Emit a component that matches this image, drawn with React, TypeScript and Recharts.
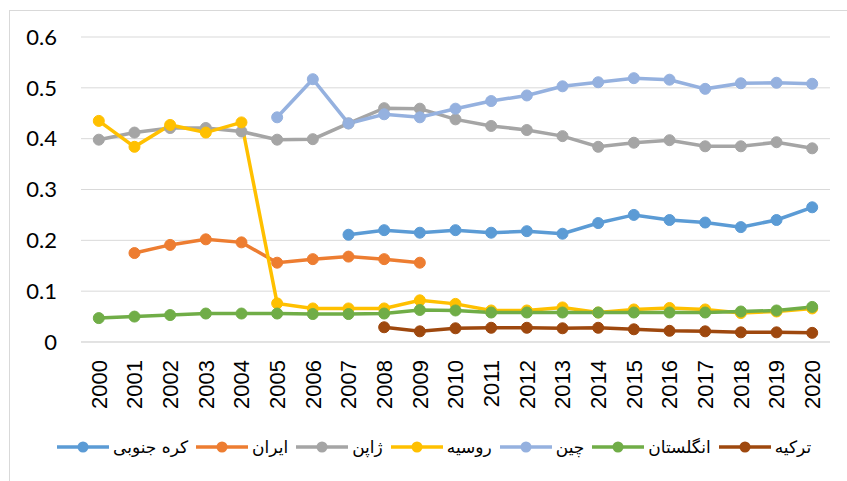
import React from 'react';
import { LineChart, Line, XAxis, YAxis, CartesianGrid, Legend } from 'recharts';

const years = [
  '2000', '2001', '2002', '2003', '2004', '2005', '2006', '2007', '2008', '2009', '2010',
  '2011', '2012', '2013', '2014', '2015', '2016', '2017', '2018', '2019', '2020',
];

// null = no value for that year
const korea = [null, null, null, null, null, null, null, 0.211, 0.22, 0.215, 0.22, 0.215, 0.218, 0.213, 0.234, 0.25, 0.24, 0.235, 0.226, 0.24, 0.265];
const iran = [null, 0.175, 0.191, 0.202, 0.196, 0.156, 0.163, 0.168, 0.163, 0.156, null, null, null, null, null, null, null, null, null, null, null];
const japan = [0.398, 0.412, 0.421, 0.421, 0.414, 0.398, 0.399, 0.43, 0.46, 0.459, 0.438, 0.425, 0.417, 0.405, 0.384, 0.392, 0.397, 0.385, 0.385, 0.393, 0.381];
const russia = [0.435, 0.384, 0.427, 0.412, 0.432, 0.076, 0.066, 0.066, 0.066, 0.082, 0.075, 0.062, 0.062, 0.068, 0.058, 0.064, 0.067, 0.064, 0.057, 0.06, 0.066];
const china = [null, null, null, null, null, 0.442, 0.517, 0.43, 0.448, 0.442, 0.459, 0.474, 0.485, 0.503, 0.511, 0.519, 0.516, 0.498, 0.509, 0.51, 0.508];
const england = [0.047, 0.05, 0.053, 0.056, 0.056, 0.056, 0.055, 0.055, 0.056, 0.063, 0.062, 0.058, 0.058, 0.058, 0.058, 0.058, 0.058, 0.058, 0.06, 0.062, 0.069];
const turkey = [null, null, null, null, null, null, null, null, 0.029, 0.021, 0.027, 0.028, 0.028, 0.027, 0.028, 0.025, 0.022, 0.021, 0.019, 0.019, 0.018];

const series = [
  { key: 'korea', name: 'کره جنوبی', color: '#5B9BD5', values: korea },
  { key: 'iran', name: 'ایران', color: '#ED7D31', values: iran },
  { key: 'japan', name: 'ژاپن', color: '#A5A5A5', values: japan },
  { key: 'russia', name: 'روسیه', color: '#FFC000', values: russia },
  { key: 'china', name: 'چین', color: '#95B1DF', values: china },
  { key: 'england', name: 'انگلستان', color: '#70AD47', values: england },
  { key: 'turkey', name: 'ترکیه', color: '#9E480E', values: turkey },
];

const yTicks = [0, 0.1, 0.2, 0.3, 0.4, 0.5, 0.6];

const data = years.map((year, i) => {
  const row: Record<string, string | number | null> = { year };
  series.forEach((s) => {
    row[s.key] = s.values[i];
  });
  return row;
});

const YearTick = (props: any) => {
  const { x, y, payload } = props;
  const ty = y + 16;
  return (
    <text
      x={x}
      y={ty}
      dy="0.36em"
      transform={`rotate(-90 ${x} ${ty})`}
      textAnchor="end"
      fill="#000"
      fontSize={22}
      fontFamily="'Liberation Sans', Arial, sans-serif"
    >
      {payload.value}
    </text>
  );
};

// legend keeps the series order (Recharts would sort it by name)
const LegendContent = () => (
  <div style={{ display: 'flex', alignItems: 'center', paddingLeft: 57, height: 24, whiteSpace: 'nowrap' }}>
    {series.map((s) => (
      <div key={s.key} style={{ display: 'flex', alignItems: 'center', marginRight: 8, flexShrink: 0 }}>
        <svg width={52} height={14} style={{ flexShrink: 0 }}>
          <line x1={0} y1={7} x2={52} y2={7} stroke={s.color} strokeWidth={3.5} />
          <circle cx={26} cy={7} r={5.5} fill={s.color} />
        </svg>
        <span
          style={{
            marginLeft: 4,
            fontFamily: "'DejaVu Sans', sans-serif",
            fontSize: 17,
            color: '#000',
            direction: 'rtl',
            whiteSpace: 'nowrap',
          }}
        >
          {s.name}
        </span>
      </div>
    ))}
  </div>
);

export default function App() {
  return (
    <div style={{ position: 'absolute', left: 0, top: 0, width: 847, height: 481, background: '#fff', overflow: 'hidden' }}>
      <div
        style={{
          position: 'absolute',
          left: 9,
          top: 10,
          width: 900,
          height: 500,
          borderLeft: '1px solid #D9D9D9',
          borderTop: '1px solid #D9D9D9',
        }}
      />
      <LineChart width={847} height={481} data={data} margin={{ top: 37, right: 17, left: 0, bottom: 22 }}>
        <CartesianGrid vertical={false} stroke="#D9D9D9" strokeWidth={1} />
        <XAxis
          dataKey="year"
          height={93}
          padding={{ left: 17.8, right: 17.8 }}
          axisLine={{ stroke: '#D9D9D9' }}
          tickLine={false}
          tickSize={0}
          tick={<YearTick />}
          interval={0}
        />
        <YAxis
          width={81}
          domain={[0, 0.6]}
          ticks={yTicks}
          axisLine={false}
          tickLine={false}
          tickSize={0}
          tickMargin={24}
          tick={{ fill: '#000', fontSize: 22, fontFamily: "Lato, 'Liberation Sans', sans-serif" }}
        />
        {series.map((s) => (
          <Line
            key={s.key}
            dataKey={s.key}
            name={s.name}
            stroke={s.color}
            strokeWidth={3.5}
            dot={{ r: 5.5, fill: s.color, stroke: s.color, strokeWidth: 1 }}
            activeDot={false}
            isAnimationActive={false}
            connectNulls={false}
          />
        ))}
        <Legend verticalAlign="bottom" height={24} width={847} wrapperStyle={{ left: 0 }} content={<LegendContent />} />
      </LineChart>
    </div>
  );
}
